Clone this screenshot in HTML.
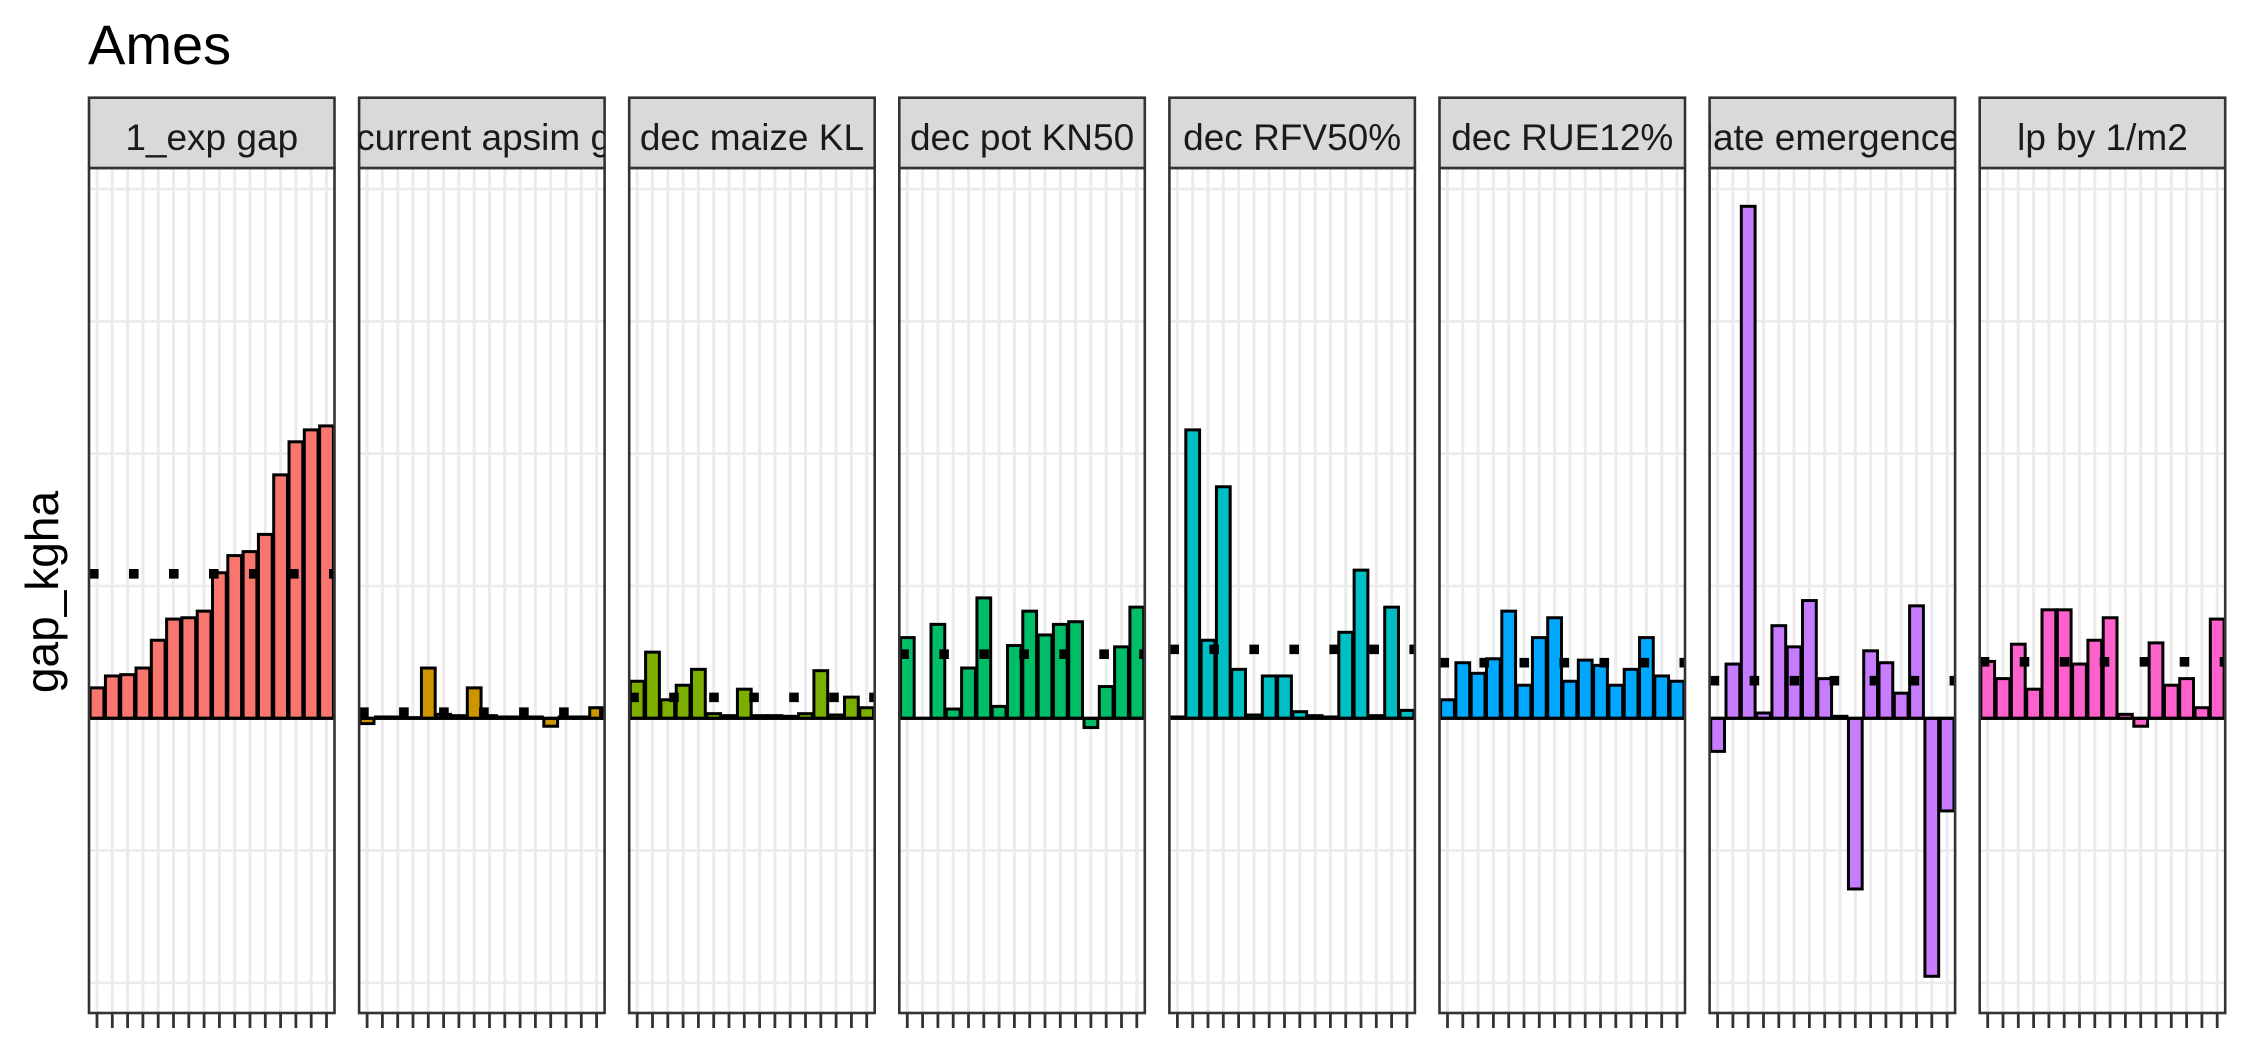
<!DOCTYPE html>
<html><head><meta charset="utf-8"><style>
html,body{margin:0;padding:0;background:#fff;}
svg{display:block;font-family:"Liberation Sans",Arial,sans-serif;}
</style></head><body>
<svg id="chart" width="2250" height="1050" viewBox="0 0 2250 1050" xmlns="http://www.w3.org/2000/svg">
<rect x="0" y="0" width="2250" height="1050" fill="#fff"/>
<text x="88" y="64" font-size="56" fill="#000">Ames</text>
<text transform="translate(58,592) rotate(-90)" text-anchor="middle" font-size="46" fill="#000">gap_kgha</text>
<g id="panels"></g>
</svg>
<script>
const facets = ["1_exp gap","current apsim gap","dec maize KL","dec pot KN50","dec RFV50%","dec RUE12%","late emergence","lp by 1/m2"];
const colors = ["#F8766D","#CD9600","#7CAE00","#00BE67","#00BFC4","#00A9FF","#C77CFF","#FF61CC"];
const yTicks = [-2,-1,0,1,2,3,4];
const s1 = [0.23,0.32,0.33,0.38,0.59,0.75,0.76,0.81,1.10,1.23,1.26,1.39,1.84,2.09,2.18,2.21];
const s2 = [-0.04,0.01,0.01,0.005,0.38,0.03,0.02,0.23,0.02,0.01,0.01,0.01,-0.06,0.01,0.01,0.08];
const s3 = [0.28,0.50,0.14,0.25,0.37,0.035,0.02,0.22,0.02,0.02,0.015,0.035,0.36,0.025,0.16,0.08];
const s4 = [0.61,0.0,0.71,0.07,0.38,0.91,0.09,0.55,0.81,0.63,0.71,0.73,-0.07,0.24,0.54,0.84];
const s5 = [0.01,2.18,0.59,1.75,0.37,0.025,0.32,0.32,0.05,0.02,0.01,0.65,1.12,0.02,0.84,0.06];
const s6 = [0.14,0.42,0.34,0.45,0.81,0.25,0.61,0.76,0.28,0.44,0.40,0.25,0.37,0.61,0.32,0.28];
const s7 = [-0.25,0.41,3.87,0.04,0.70,0.54,0.89,0.30,0.015,-1.29,0.51,0.42,0.19,0.85,-1.95,-0.70];
const s8 = [0.43,0.30,0.56,0.22,0.82,0.82,0.41,0.59,0.76,0.03,-0.06,0.57,0.25,0.30,0.08,0.75];
const series = [s1,s2,s3,s4,s5,s6,s7,s8];

const NS = "http://www.w3.org/2000/svg";
const root = document.getElementById("panels");
const P0 = 89, PSTEP = 270.1, PW = 245.5;
const STRIP_TOP = 97.7, PT = 168, PB = 1013;
const ZERO = 718.3, UNIT = 132.3;
function yScale(v){ return ZERO - v*UNIT; }
function mk(tag, attrs, parent){
  const e = document.createElementNS(NS, tag);
  for (const k in attrs) e.setAttribute(k, attrs[k]);
  parent.appendChild(e);
  return e;
}
facets.forEach((name, p) => {
  const data = series[p];
  const left = P0 + p*PSTEP;
  const n = data.length;
  const pad = 8;
  const step = (PW - 2*pad)/(n-1);
  const xScale = i => left + pad + i*step;
  const bw = step*0.9;
  const g = mk("g", {}, root);
  
  
  const bg = mk("rect", {x:left, y:PT, width:PW, height:PB-PT, fill:"#fff"}, g);
  
  
  const cid = "clip" + p;
  const cp = mk("clipPath", {id:cid}, g);
  mk("rect", {x:left, y:PT, width:PW, height:PB-PT}, cp);
  const sid = "sclip" + p;
  const sp = mk("clipPath", {id:sid}, g);
  mk("rect", {x:left, y:STRIP_TOP, width:PW, height:PT-STRIP_TOP}, sp);
  const inner = mk("g", {"clip-path":"url(#"+cid+")"}, g);
  yTicks.forEach(t => {
    const gl = mk("line", {x1:left, x2:left+PW, y1:yScale(t), y2:yScale(t), stroke:"#ebebeb", "stroke-width":2.6}, inner);
    
    
  });
  data.forEach((v, i) => {
    const gl = mk("line", {x1:xScale(i), x2:xScale(i), y1:PT, y2:PB, stroke:"#ebebeb", "stroke-width":3}, inner);
    
    
  });
  data.forEach((v, i) => {
    const y0 = yScale(Math.max(v,0)), y1 = yScale(Math.min(v,0));
    const r = mk("rect", {x:xScale(i)-bw/2, y:y0, width:bw, height:Math.max(y1-y0,0.01), fill:colors[p], stroke:"#000", "stroke-width":3}, inner);
    
    
  });
  const zl = mk("line", {x1:left, x2:left+PW, y1:yScale(0), y2:yScale(0), stroke:"#000", "stroke-width":3.2}, inner);
  
  
  const mean = data.reduce((a,b)=>a+b,0)/n;
  const ml = mk("line", {x1:left, x2:left+PW, y1:yScale(mean), y2:yScale(mean), stroke:"#000", "stroke-width":9.6, "stroke-dasharray":"9.6 30.4"}, inner);
  
  
  const bd = mk("rect", {x:left, y:PT, width:PW, height:PB-PT, fill:"none", stroke:"#333", "stroke-width":2.6}, g);
  
  
  data.forEach((v, i) => {
    const tk = mk("line", {x1:xScale(i), x2:xScale(i), y1:PB, y2:PB+15, stroke:"#333", "stroke-width":2.8}, g);
    
    
  });
  const st = mk("rect", {x:left, y:STRIP_TOP, width:PW, height:PT-STRIP_TOP, fill:"#d9d9d9", stroke:"#333", "stroke-width":2.6}, g);
  
  
  const longLabel = name.length > 15;
  const tx = mk("text", {x: name === "current apsim gap" ? left-3 : left+PW/2, y:150, "text-anchor": name === "current apsim gap" ? "start" : "middle", "font-size":37, fill:"#1a1a1a", "clip-path":"url(#"+sid+")"}, g);
  tx.textContent = name;
  
  
});
</script>
</body></html>
